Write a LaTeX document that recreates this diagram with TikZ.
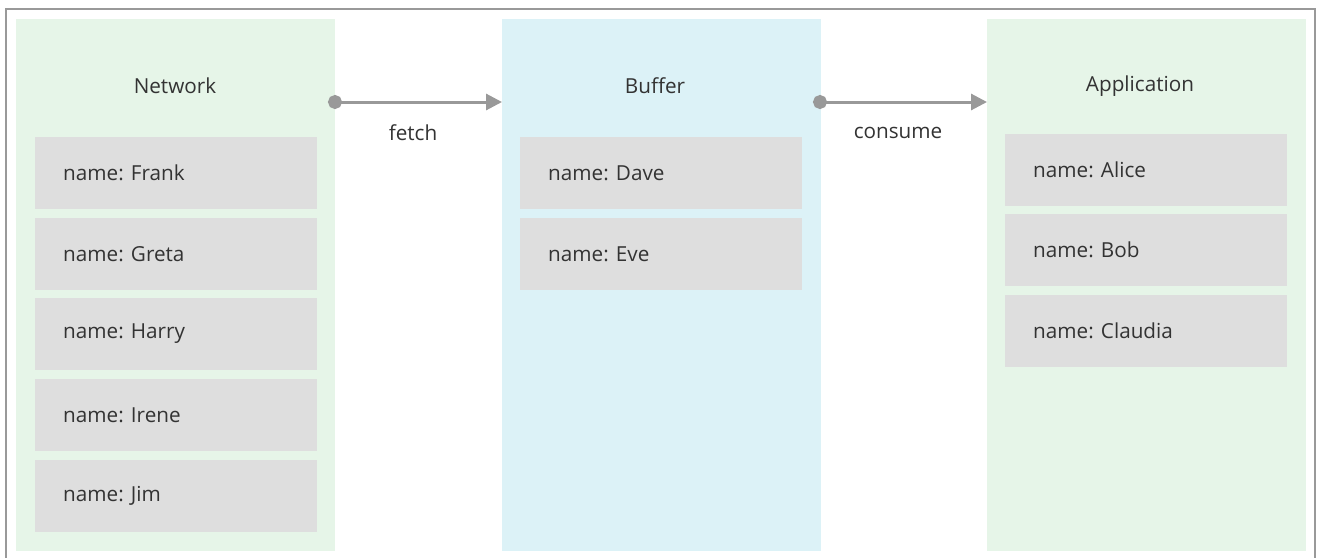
\documentclass[tikz,border=0pt]{standalone}
\usepackage{fontspec}
\setmainfont{Open Sans}
\usetikzlibrary{arrows.meta}
\definecolor{panelgreen}{HTML}{E6F5E8}
\definecolor{panelblue}{HTML}{DCF2F7}
\definecolor{itemgray}{HTML}{DEDEDE}
\definecolor{linegray}{HTML}{999999}
\definecolor{txt}{HTML}{333333}
\tikzset{
  panel/.style={draw=none, minimum width=319pt, minimum height=532pt, anchor=north west, inner sep=0pt},
  item/.style={fill=itemgray, minimum width=282pt, minimum height=72pt, anchor=north west, inner sep=0pt},
  itemtext/.style={text=txt, font=\fontsize{20.7}{24}\selectfont, anchor=west, inner sep=0pt},
  title/.style={text=txt, font=\fontsize{20.7}{24}\selectfont},
  lbl/.style={text=txt, font=\fontsize{20.7}{24}\selectfont},
  conn/.style={draw=linegray, line width=3pt, {Circle[length=14pt]}-{Triangle[length=16pt,width=16pt]}, shorten <=-7pt},
}
\begin{document}
\begin{tikzpicture}[x=1pt,y=-1pt]
\useasboundingbox (0,0) rectangle (1317,557);
\fill[white] (0,0) rectangle (1317,557);
\draw[linegray, line width=2pt] (6,560) -- (6,9) -- (1315,9) -- (1315,560);
% panels
\node[panel, fill=panelgreen] (net) at (16,19) {};
\node[panel, fill=panelblue] (buf) at (502,19) {};
\node[panel, fill=panelgreen] (app) at (987,19) {};
% titles
\node[title] (tnet) at (175,86) {Network};
\node[title] (tbuf) at (655,86) {Buffer};
\node[title] (tapp) at (1140,86) {Application};
% network items
\node[item] (frank) at (35,137) {};
\node[itemtext] at (63,173) {name: Frank};
\node[item] (greta) at (35,218) {};
\node[itemtext] at (63,254) {name: Greta};
\node[item] (harry) at (35,298) {};
\node[itemtext] at (63,334) {name: Harry};
\node[item] (irene) at (35,379) {};
\node[itemtext] at (63,415) {name: Irene};
\node[item] (jim) at (35,460) {};
\node[itemtext] at (63,496) {name: Jim};
% buffer items
\node[item] (dave) at (520,137) {};
\node[itemtext] at (548,173) {name: Dave};
\node[item] (eve) at (520,218) {};
\node[itemtext] at (548,254) {name: Eve};
% application items
\node[item] (alice) at (1005,134) {};
\node[itemtext] at (1033,170) {name: Alice};
\node[item] (bob) at (1005,214) {};
\node[itemtext] at (1033,250) {name: Bob};
\node[item] (claudia) at (1005,295) {};
\node[itemtext] at (1033,331) {name: Claudia};
% connectors
\coordinate (f1) at (335,102);
\coordinate (f2) at (502,102);
\coordinate (c1) at (820,102);
\coordinate (c2) at (987,102);
\draw[conn] (f1) -- (f2);
\draw[conn] (c1) -- (c2);
\node[lbl] (lf) at (413,133) {fetch};
\node[lbl] (lc) at (898,133) {consume};
\end{tikzpicture}
\end{document}
